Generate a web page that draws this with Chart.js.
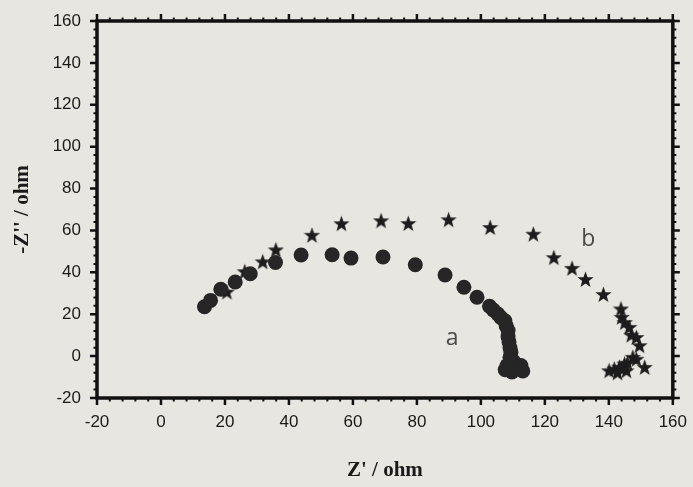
<!DOCTYPE html>
<html>
<head>
<meta charset="utf-8">
<script src="https://cdn.jsdelivr.net/npm/chart.js@4.4.0/dist/chart.umd.min.js"></script>
<style>
  html, body { margin: 0; padding: 0; background: #e8e6e1; }
  #wrap { width: 693px; height: 487px; }
</style>
</head>
<body>
<div id="wrap"><canvas id="nyquist" width="693" height="487"></canvas></div>
<script>
// curva a (circulos)
const aZre = [13.6, 15.5, 18.7, 23.2, 27.9, 35.8, 43.8, 53.5, 59.4, 69.4, 79.5, 88.8, 94.7, 98.8, 102.7, 103.9, 105.3, 106.2, 107.5, 107.9, 108.5, 108.5, 108.8, 109.1, 109.4, 109.1, 110.2, 108.2, 112.5, 111.1, 113.1, 107.6, 109.7];
const aZim = [23.6, 26.6, 31.9, 35.4, 39.3, 44.7, 48.3, 48.4, 46.8, 47.3, 43.6, 38.7, 32.9, 28.1, 23.8, 22, 20.1, 18.5, 16.9, 14.5, 12.2, 9.3, 6.7, 4, 1.9, -0.6, -2.5, -4.5, -4.5, -6, -7.1, -6.5, -7.6];

// curva b (estrellas)
const bZre = [20.6, 26.2, 31.8, 35.9, 47.2, 56.4, 68.8, 77.3, 89.9, 102.9, 116.4, 122.8, 128.5, 132.7, 138.3, 143.8, 144, 145, 146.4, 147, 148.6, 149.6, 147.5, 148.6, 144.9, 145.8, 141.7, 143.3, 151.2, 140.1, 142.7, 145.5];
const bZim = [30.6, 40.3, 45, 50.7, 57.7, 63.2, 64.6, 63.3, 65.1, 61.4, 58.2, 47, 41.9, 36.6, 29.4, 22.5, 18.5, 16, 13.7, 10, 8.9, 5, -0.6, -1.5, -3.8, -3.4, -6.2, -5.3, -5.4, -7, -8, -7];

// etiquetas de las curvas
const labelText = ["a", "b"];
const labelX = [91, 133.6];
const labelY = [8.3, 55.5];

const axisMin = -20;
const axisMax = 160;
const majorStep = 20;
const minorStep = 4;

const toPoints = (xs, ys) => xs.map((x, i) => ({ x: x, y: ys[i] }));

// estrella rellena para la serie b
const starImg = document.createElement("canvas");
starImg.width = 17;
starImg.height = 17;
const sctx = starImg.getContext("2d");
sctx.fillStyle = "#1c1c1c";
sctx.beginPath();
for (let i = 0; i < 10; i++) {
  const r = i % 2 === 0 ? 8.5 : 3.5;
  const ang = -Math.PI / 2 + (i * Math.PI) / 5;
  const px = 8.5 + r * Math.cos(ang);
  const py = 9 + r * Math.sin(ang);
  if (i === 0) sctx.moveTo(px, py);
  else sctx.lineTo(px, py);
}
sctx.closePath();
sctx.fill();

// marco con marcas mayores y menores hacia afuera
const frameTicks = {
  id: "frameTicks",
  afterDatasetsDraw(chart) {
    const ctx = chart.ctx;
    const area = chart.chartArea;
    const xs = chart.scales.x;
    const ys = chart.scales.y;
    ctx.save();
    ctx.strokeStyle = "#111";
    ctx.lineCap = "butt";
    for (let v = axisMin; v <= axisMax; v += minorStep) {
      const major = (v - axisMin) % majorStep === 0;
      const len = major ? 7 : 3.5;
      ctx.lineWidth = major ? 2.5 : 2;
      const px = xs.getPixelForValue(v);
      const py = ys.getPixelForValue(v);
      ctx.beginPath();
      ctx.moveTo(px, area.bottom);
      ctx.lineTo(px, area.bottom + len);
      ctx.moveTo(px, area.top);
      ctx.lineTo(px, area.top - len);
      ctx.moveTo(area.left, py);
      ctx.lineTo(area.left - len, py);
      ctx.moveTo(area.right, py);
      ctx.lineTo(area.right + len, py);
      ctx.stroke();
    }
    ctx.lineWidth = 3.5;
    ctx.strokeRect(area.left, area.top, area.right - area.left, area.bottom - area.top);

    ctx.fillStyle = "#4a4a4a";
    ctx.font = "23px 'Open Sans', 'Liberation Sans', sans-serif";
    ctx.textAlign = "center";
    ctx.textBaseline = "middle";
    for (let i = 0; i < labelText.length; i++) {
      ctx.fillText(labelText[i], xs.getPixelForValue(labelX[i]), ys.getPixelForValue(labelY[i]));
    }
    ctx.restore();
  }
};

const tickFont = { family: "'Liberation Sans Narrow', 'Liberation Sans', Arial, sans-serif", size: 17 };
const titleFont = { family: "'Liberation Serif', 'Times New Roman', serif", size: 21, weight: "bold" };

new Chart(document.getElementById("nyquist"), {
  type: "scatter",
  data: {
    datasets: [
      {
        label: "a",
        data: toPoints(aZre, aZim),
        pointStyle: "circle",
        pointRadius: 7.5,
        pointBackgroundColor: "#262626",
        pointBorderWidth: 0,
        order: 1
      },
      {
        label: "b",
        data: toPoints(bZre, bZim),
        pointStyle: starImg,
        pointRadius: 8,
        order: 2
      }
    ]
  },
  options: {
    responsive: false,
    animation: false,
    layout: { padding: { top: 21, right: 13, left: 0, bottom: 0 } },
    plugins: {
      legend: { display: false },
      tooltip: { enabled: false }
    },
    scales: {
      x: {
        type: "linear",
        min: axisMin,
        max: axisMax,
        grid: { display: false },
        border: { display: false },
        ticks: { stepSize: majorStep, autoSkip: false, maxRotation: 0, padding: 6, color: "#1a1a1a", font: tickFont },
        title: { display: true, text: "Z' / ohm", color: "#1a1a1a", font: titleFont, padding: { top: 0, bottom: 4 } },
        afterFit: (scale) => { scale.height = 89; }
      },
      y: {
        type: "linear",
        min: axisMin,
        max: axisMax,
        grid: { display: false },
        border: { display: false },
        ticks: { stepSize: majorStep, autoSkip: false, padding: 8, color: "#1a1a1a", font: tickFont },
        title: { display: true, text: "-Z'' / ohm", color: "#1a1a1a", font: titleFont, padding: { top: 10, bottom: 0 } },
        afterFit: (scale) => { scale.width = 97; }
      }
    }
  },
  plugins: [frameTicks]
});
</script>
</body>
</html>
